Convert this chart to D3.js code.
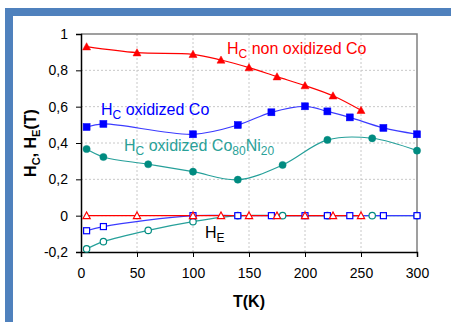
<!DOCTYPE html>
<html>
<head>
<meta charset="utf-8">
<script src="https://cdn.jsdelivr.net/npm/d3@7"></script>
<style>
  body { margin: 0; background: #fff; }
  svg { display: block; font-family: "Liberation Sans", Arial, sans-serif; }
</style>
</head>
<body>
<div id="chart"></div>
<script>
// temperatures (K) for each series
const tRed = [5, 50, 100, 125, 150, 175, 200, 225, 250];
const tBlue = [5, 20, 100, 140, 170, 200, 220, 240, 270, 300];
const tTeal = [5, 20, 60, 100, 140, 180, 220, 260, 300];

// Hc values (T)
const hcNonOxCo = [0.93, 0.897, 0.888, 0.857, 0.815, 0.765, 0.716, 0.66, 0.58];
const hcOxCo = [0.488, 0.505, 0.448, 0.499, 0.569, 0.602, 0.574, 0.541, 0.483, 0.448];
const hcOxCoNi = [0.367, 0.323, 0.283, 0.242, 0.198, 0.279, 0.417, 0.426, 0.358];

// He values (T)
const heNonOxCo = [0, 0, 0, 0, 0, 0, 0, 0, 0];
const heOxCo = [-0.083, -0.06, 0, 0, 0, 0, 0, 0, 0, 0];
const heOxCoNi = [-0.183, -0.143, -0.081, -0.033, 0, 0, 0, 0, 0];

const xTicks = [0, 50, 100, 150, 200, 250, 300];
const yTicks = [-0.2, 0, 0.2, 0.4, 0.6, 0.8, 1];

const width = 451, height = 322;
const margin = { top: 34, right: 34, bottom: 70, left: 81 };

const svg = d3.select('#chart').append('svg').attr('width', width).attr('height', height);

// blue frame
svg.append('rect').attr('x', 5).attr('y', 8).attr('width', width - 5).attr('height', 8).attr('fill', '#4f81bd');
svg.append('rect').attr('x', 5).attr('y', 8).attr('width', 8).attr('height', height - 8).attr('fill', '#4f81bd');

const x = d3.scaleLinear().domain([0, 300]).range([margin.left, width - margin.right]);
const y = d3.scaleLinear().domain([-0.2, 1]).range([height - margin.bottom, margin.top]);

// grid
const grid = svg.append('g').attr('stroke', '#c8c8c8').attr('stroke-dasharray', '2,2').attr('stroke-width', 1);
xTicks.slice(1, -1).forEach(t => {
  grid.append('line').attr('x1', x(t)).attr('x2', x(t)).attr('y1', y(1)).attr('y2', y(-0.2));
});
yTicks.slice(1, -1).forEach(t => {
  grid.append('line').attr('x1', x(0)).attr('x2', x(300)).attr('y1', y(t)).attr('y2', y(t));
});

// top/right border
svg.append('path')
  .attr('d', `M${x(0)},${y(1)}H${x(300)}V${y(-0.2)}`)
  .attr('fill', 'none').attr('stroke', '#808080').attr('stroke-width', 1.5);

const fmt = d => String(d3.format('.1~f')(d)).replace('.', ',').replace('−', '-');

const gx = svg.append('g').attr('transform', `translate(0,${y(-0.2)})`)
  .call(d3.axisBottom(x).tickValues(xTicks).tickSize(5).tickPadding(11));
const gy = svg.append('g').attr('transform', `translate(${x(0)},0)`)
  .call(d3.axisLeft(y).tickValues(yTicks).tickSize(5).tickPadding(8).tickFormat(fmt));
[gx, gy].forEach(g => {
  g.select('.domain').attr('stroke', '#000').attr('stroke-width', 1.5);
  g.selectAll('.tick line').attr('stroke', '#000');
  g.selectAll('.tick text').attr('font-size', 14).attr('fill', '#000')
    .attr('font-family', '"Liberation Sans", Arial, sans-serif');
});

const line = d3.line().x(d => x(d[0])).y(d => y(d[1])).curve(d3.curveCatmullRom);
const zip = (a, b) => a.map((v, i) => [v, b[i]]);

function drawLine(ts, vs, color, w) {
  svg.append('path').datum(zip(ts, vs)).attr('d', line)
    .attr('fill', 'none').attr('stroke', color).attr('stroke-width', w || 1.2);
}

function drawMarkers(ts, vs, shape, color, filled) {
  const g = svg.append('g');
  zip(ts, vs).forEach(d => {
    const cx = x(d[0]), cy = y(d[1]);
    let m;
    if (shape === 'square') {
      const s = filled ? 7 : 6;
      m = g.append('rect').attr('x', cx - s / 2).attr('y', cy - s / 2).attr('width', s).attr('height', s);
    } else if (shape === 'circle') {
      m = g.append('circle').attr('cx', cx).attr('cy', cy).attr('r', filled ? 3.6 : 3.2);
    } else {
      const s = filled ? 4 : 3.6;
      m = g.append('path').attr('d', `M${cx},${cy - s}L${cx + s},${cy + s * 0.8}L${cx - s},${cy + s * 0.8}Z`);
    }
    if (filled) m.attr('fill', color).attr('stroke', color).attr('stroke-width', 0.5);
    else m.attr('fill', '#fff').attr('stroke', color).attr('stroke-width', 1.2);
  });
}

const red = '#ff0000', blue = '#0000ff', blueLine = '#3b3bff', teal = '#008b80', tealLine = '#26a09a';

// He series
drawLine(tTeal, heOxCoNi, tealLine);
drawLine(tBlue, heOxCo, blueLine);
drawLine(tRed, heNonOxCo, red);
drawMarkers(tTeal, heOxCoNi, 'circle', teal, false);
drawMarkers(tBlue, heOxCo, 'square', blue, false);
drawMarkers(tRed, heNonOxCo, 'triangle', red, false);

// Hc series
drawLine(tTeal, hcOxCoNi, tealLine);
drawLine(tBlue, hcOxCo, blueLine);
drawLine(tRed, hcNonOxCo, red);
drawMarkers(tTeal, hcOxCoNi, 'circle', teal, true);
drawMarkers(tBlue, hcOxCo, 'square', blue, true);
drawMarkers(tRed, hcNonOxCo, 'triangle', red, true);

// series labels
function label(px, py, color, parts) {
  const t = svg.append('text').attr('x', px).attr('y', py).attr('fill', color).attr('font-size', 16);
  parts.forEach(p => {
    if (p.sub) t.append('tspan').attr('font-size', 12).attr('dy', 4).text(p.text);
    else t.append('tspan').attr('dy', p.back ? -4 : 0).text(p.text);
  });
}
label(227, 54, red, [{ text: 'H' }, { text: 'C', sub: true }, { text: ' non oxidized Co', back: true }]);
label(101, 115, blue, [{ text: 'H' }, { text: 'C', sub: true }, { text: ' oxidized Co', back: true }]);
label(124, 151, '#2aa198', [{ text: 'H' }, { text: 'C', sub: true }, { text: ' oxidized Co', back: true },
  { text: '80', sub: true }, { text: 'Ni', back: true }, { text: '20', sub: true }]);
label(205, 238, '#000', [{ text: 'H' }, { text: 'E', sub: true }]);

// axis titles
svg.append('text').attr('x', (x(0) + x(300)) / 2).attr('y', 307).attr('text-anchor', 'middle')
  .attr('font-size', 16).attr('font-weight', 'bold').text('T(K)');
const yt = svg.append('text').attr('transform', `translate(36,${(y(1) + y(-0.2)) / 2}) rotate(-90)`)
  .attr('text-anchor', 'middle').attr('font-size', 16).attr('font-weight', 'bold');
yt.append('tspan').text('H');
yt.append('tspan').attr('font-size', 11).attr('dy', 4).text('C');
yt.append('tspan').attr('dy', -4).text(', H');
yt.append('tspan').attr('font-size', 11).attr('dy', 4).text('E');
yt.append('tspan').attr('dy', -4).text('(T)');
</script>
</body>
</html>
